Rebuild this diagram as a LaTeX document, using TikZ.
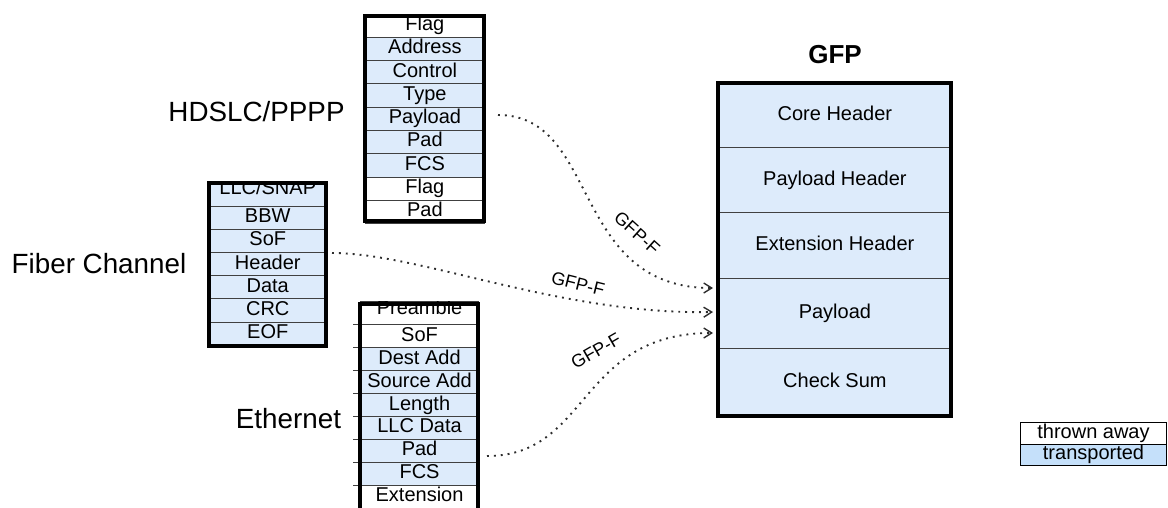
\documentclass[tikz,border=0pt]{standalone}
\usepackage{fontspec}
\setmainfont{Liberation Sans}
\usetikzlibrary{arrows.meta}
\definecolor{cellblue}{RGB}{221,235,251}
\definecolor{legblue}{RGB}{197,224,250}
\definecolor{conncol}{RGB}{45,45,45}
\newcommand{\cellfont}{\fontsize{20}{22}\selectfont}
\newcommand{\bigfont}{\fontsize{27.8}{30}\selectfont}
\newcommand{\lblfont}{\fontsize{18}{20}\selectfont}
\tikzset{
  cell/.style={draw=black!75, line width=0.8pt, rectangle, inner sep=0pt,
    text height=14pt, text depth=4pt, font=\cellfont, anchor=north west},
  frame/.style={draw=black, line width=4pt},
  title/.style={inner sep=0pt, font=\bigfont},
  conn/.style={draw=conncol, line width=1.9pt, dash pattern=on 1.9pt off 5pt,
    -{Straight Barb[length=8pt,width=10pt,line width=1.4pt]}},
  lbl/.style={inner sep=0pt, font=\lblfont}
}
\begin{document}
\begin{tikzpicture}[x=1pt,y=-1pt]
\useasboundingbox (0,0) rectangle (1168,507);
\clip (0,0) rectangle (1168,507);

% ---- HDLC/PPP column ----
\begin{scope}
\clip (363,14) rectangle (486,223);
\foreach[count=\i from 0] \t/\c in {Flag/white,Address/cellblue,Control/cellblue,Type/cellblue,Payload/cellblue,Pad/cellblue,FCS/cellblue,Flag/white,Pad/white}
  \node[cell,fill=\c,minimum width=119pt,minimum height=23.3pt] (hd\i) at (365,{13.4+23.3*\i}) {\t};
\end{scope}
\draw[frame] (365,16) rectangle (484,221);
\node[title] (hdlabel) at (256.5,112) {HDSLC/PPPP};

% ---- Fiber Channel column ----
\begin{scope}
\clip (206.7,181) rectangle (328,348);
\node[cell,fill=cellblue,minimum width=117.3pt,minimum height=23.2pt] (fc0) at (208.7,182.4) {\raisebox{4.5pt}{LLC/SNAP}};
\foreach[count=\i from 1] \t/\c in {BBW/cellblue,SoF/cellblue,Header/cellblue,Data/cellblue,CRC/cellblue,EOF/cellblue}
  \node[cell,fill=\c,minimum width=117.3pt,minimum height=23.2pt] (fc\i) at (208.7,{182.4+23.2*\i}) {\t};
\end{scope}
\draw[frame] (208.7,183) rectangle (326,346);
\node[title] (fclabel) at (99,264) {Fiber Channel};

% ---- Ethernet column ----
\foreach \i in {1,...,8}
  \draw[black!75, line width=0.8pt] (353,{301.3+22.96*\i}) -- (361,{301.3+22.96*\i});
\begin{scope}
\clip (358.3,301.7) rectangle (480,520);
\node[cell,fill=white,minimum width=117.7pt,minimum height=22.96pt] (et0) at (360.3,301.3) {\raisebox{4pt}{Preamble}};
\foreach[count=\i from 1] \t/\c in {SoF/white,Dest Add/cellblue,Source Add/cellblue,Length/cellblue,LLC Data/cellblue,Pad/cellblue,FCS/cellblue,Extension/white}
  \node[cell,fill=\c,minimum width=117.7pt,minimum height=22.96pt] (et\i) at (360.3,{301.3+22.96*\i}) {\t};
\end{scope}
\draw[frame] (360.3,303.7) rectangle (478,520);
\node[title] (etlabel) at (288.5,419) {Ethernet};

% ---- GFP column ----
\node[inner sep=0pt, font=\fontsize{26}{28}\selectfont\bfseries] (gfptitle) at (835,55) {GFP};
\node[cell,fill=cellblue,minimum width=232.6pt,minimum height=64.4pt] (g0) at (718.2,82.9) {Core Header};
\node[cell,fill=cellblue,minimum width=232.6pt,minimum height=65pt] (g1) at (718.2,147.3) {Payload Header};
\node[cell,fill=cellblue,minimum width=232.6pt,minimum height=65.4pt] (g2) at (718.2,212.3) {Extension Header};
\node[cell,fill=cellblue,minimum width=232.6pt,minimum height=70.6pt] (g3) at (718.2,277.7) {Payload};
\node[cell,fill=cellblue,minimum width=232.6pt,minimum height=67.5pt] (g4) at (718.2,348.3) {Check Sum};
\draw[frame] (718.2,82.9) rectangle (950.8,415.8);

% ---- Legend ----
\node[cell,draw=black,line width=1pt,fill=white,minimum width=146pt,minimum height=21.5pt] (leg0) at (1020,422) {thrown away};
\node[cell,draw=black,line width=1pt,fill=legblue,minimum width=146pt,minimum height=21.5pt] (leg1) at (1020,443.5) {transported};

% ---- Connectors ----
\coordinate (s1) at (498,115);
\coordinate (s2) at (332,253);
\coordinate (s3) at (487,456);
\coordinate (e1) at (713,288);
\coordinate (e2) at (713,312);
\coordinate (e3) at (713,333);
\draw[conn] (s1) .. controls (600,115) and (570,288) .. (e1);
\draw[conn] (s2) .. controls (420,253) and (560,315) .. (e2);
\draw[conn] (s3) .. controls (590,456) and (578,333) .. (e3);
\node[lbl, rotate=-42] (l1) at (637,233) {GFP-F};
\node[lbl, rotate=-14] (l2) at (578,284) {GFP-F};
\node[lbl, rotate=30] (l3) at (596,351) {GFP-F};
\end{tikzpicture}
\end{document}
